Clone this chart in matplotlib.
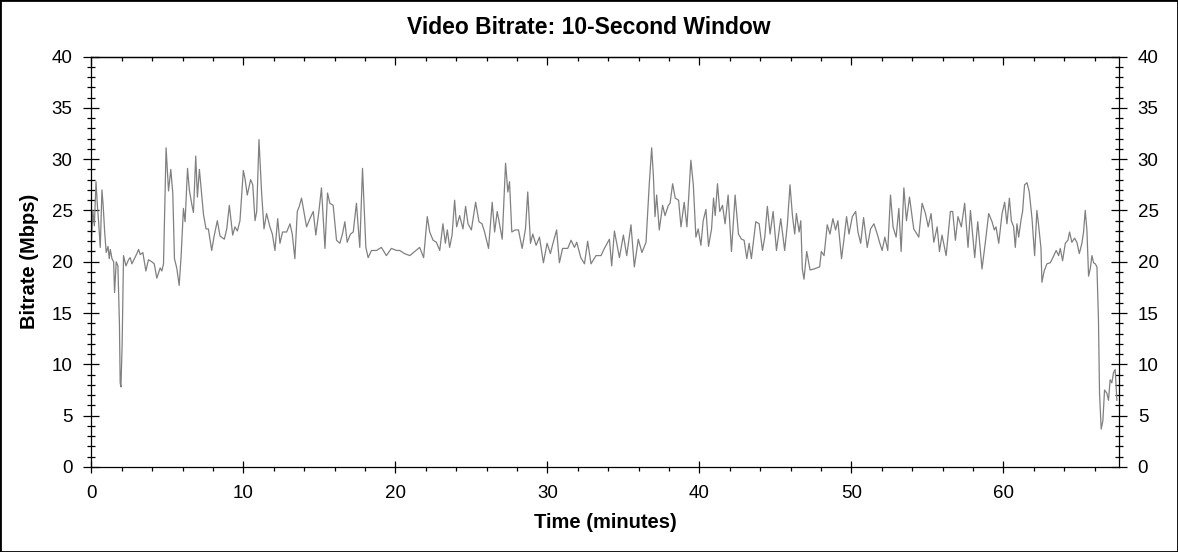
import matplotlib
matplotlib.use('Agg')
import matplotlib.pyplot as plt
from matplotlib.ticker import MultipleLocator
from matplotlib.patches import Rectangle

plt.rcParams['font.family'] = ['Liberation Sans', 'DejaVu Sans']
plt.rcParams['font.size'] = 13.5

# time (minutes) and bitrate (Mbps)
minutes = [
    0.00, 0.10, 0.20, 0.31, 0.40, 0.48, 0.59, 0.70, 0.78, 0.88, 0.98, 1.10, 1.18, 1.25, 1.36,
    1.47, 1.53, 1.64, 1.75, 1.85, 1.90, 1.95, 2.03, 2.12, 2.28, 2.45, 2.56, 2.67, 2.80, 3.00,
    3.11, 3.22, 3.39, 3.59, 3.76, 3.98, 4.14, 4.31, 4.53, 4.64, 4.75, 4.92, 5.08, 5.23, 5.36,
    5.47, 5.62, 5.78, 5.91, 6.06, 6.17, 6.33, 6.45, 6.61, 6.72, 6.87, 6.98, 7.11, 7.38, 7.55,
    7.70, 7.92, 8.08, 8.29, 8.47, 8.75, 8.91, 9.08, 9.30, 9.45, 9.61, 9.78, 10.00, 10.11, 10.26,
    10.48, 10.62, 10.77, 10.88, 11.03, 11.20, 11.36, 11.53, 11.75, 11.91, 12.08, 12.26, 12.41, 12.58, 12.85,
    13.07, 13.22, 13.39, 13.55, 13.68, 13.83, 13.98, 14.16, 14.38, 14.60, 14.77, 14.97, 15.14, 15.37, 15.54,
    15.69, 15.91, 16.13, 16.35, 16.52, 16.68, 16.83, 17.05, 17.23, 17.44, 17.66, 17.84, 18.06, 18.21, 18.43,
    18.76, 19.08, 19.41, 19.74, 20.07, 20.29, 20.60, 20.95, 21.27, 21.60, 21.86, 22.10, 22.26, 22.48, 22.70,
    22.92, 23.13, 23.29, 23.42, 23.57, 23.73, 23.90, 24.03, 24.23, 24.45, 24.62, 24.78, 25.00, 25.28, 25.50,
    25.70, 25.87, 26.13, 26.37, 26.53, 26.70, 26.85, 27.03, 27.25, 27.40, 27.51, 27.66, 27.88, 28.10, 28.34,
    28.56, 28.71, 28.89, 29.04, 29.26, 29.48, 29.74, 29.98, 30.20, 30.35, 30.61, 30.79, 31.00, 31.34, 31.56,
    31.78, 31.93, 32.20, 32.44, 32.65, 32.87, 33.20, 33.53, 33.75, 34.08, 34.23, 34.41, 34.74, 35.00, 35.22,
    35.50, 35.72, 35.98, 36.22, 36.49, 36.70, 36.86, 36.97, 37.08, 37.19, 37.36, 37.58, 37.74, 37.96, 38.07,
    38.24, 38.41, 38.63, 38.79, 39.00, 39.18, 39.44, 39.60, 39.77, 39.92, 40.10, 40.25, 40.43, 40.60, 40.80,
    40.93, 41.04, 41.19, 41.34, 41.52, 41.69, 41.89, 42.11, 42.35, 42.57, 42.77, 42.94, 43.12, 43.27, 43.42,
    43.71, 43.93, 44.15, 44.30, 44.47, 44.65, 44.85, 45.07, 45.35, 45.61, 45.79, 45.96, 46.12, 46.27, 46.38,
    46.56, 46.67, 46.77, 46.88, 47.06, 47.28, 47.54, 47.91, 48.02, 48.20, 48.41, 48.59, 48.78, 48.96, 49.11,
    49.35, 49.51, 49.68, 49.84, 50.06, 50.28, 50.43, 50.61, 50.80, 51.04, 51.26, 51.48, 51.70, 51.85, 52.02,
    52.20, 52.39, 52.57, 52.74, 52.94, 53.12, 53.27, 53.45, 53.62, 53.82, 54.10, 54.43, 54.65, 54.87, 55.05,
    55.24, 55.42, 55.64, 55.79, 55.96, 56.23, 56.51, 56.66, 56.84, 57.01, 57.23, 57.45, 57.67, 57.83, 58.11,
    58.31, 58.59, 58.81, 59.03, 59.25, 59.40, 59.51, 59.69, 59.91, 60.08, 60.23, 60.39, 60.52, 60.67, 60.78,
    60.89, 61.00, 61.17, 61.26, 61.39, 61.55, 61.70, 61.88, 62.05, 62.20, 62.31, 62.47, 62.53, 62.68, 62.86,
    63.08, 63.25, 63.47, 63.63, 63.74, 63.89, 64.07, 64.24, 64.35, 64.50, 64.68, 64.83, 64.99, 65.16, 65.27,
    65.38, 65.49, 65.60, 65.71, 65.82, 65.93, 66.04, 66.15, 66.25, 66.32, 66.43, 66.54, 66.65, 66.80, 66.91,
    67.02, 67.13, 67.24, 67.35, 67.46,
]
mbps = [
    21.5, 25.0, 23.5, 27.8, 25.5, 23.9, 21.4, 27.0, 25.5, 22.9, 20.9, 21.5, 20.3, 21.2, 20.3,
    20.0, 17.0, 20.0, 19.6, 14.0, 8.2, 7.8, 12.0, 20.6, 19.6, 20.2, 20.4, 19.8, 20.2, 20.8,
    21.2, 20.7, 20.9, 19.1, 20.2, 20.0, 19.8, 18.4, 19.4, 19.1, 19.8, 31.1, 26.9, 29.0, 26.7,
    20.3, 19.4, 17.7, 20.6, 25.2, 23.9, 29.1, 27.0, 25.6, 24.8, 30.3, 26.3, 29.0, 24.6, 23.2,
    23.2, 21.1, 22.5, 24.0, 22.5, 22.2, 23.2, 25.5, 22.6, 23.4, 23.0, 24.0, 28.9, 28.1, 26.5,
    28.0, 27.5, 24.0, 24.9, 31.9, 26.8, 23.2, 24.7, 23.4, 22.7, 21.1, 24.2, 21.8, 22.9, 22.9,
    23.7, 22.7, 20.3, 24.9, 25.4, 26.2, 24.9, 23.4, 24.2, 24.9, 22.6, 24.9, 27.2, 21.3, 26.7,
    25.7, 25.5, 22.1, 21.8, 22.7, 23.9, 21.9, 22.7, 22.9, 25.7, 21.4, 29.1, 21.4, 20.4, 21.1,
    21.1, 21.4, 20.6, 21.3, 21.1, 21.1, 20.8, 20.6, 21.0, 21.4, 20.4, 24.4, 22.9, 22.1, 21.9,
    21.1, 23.7, 21.8, 23.1, 21.4, 22.6, 26.0, 23.4, 24.5, 23.2, 25.4, 23.7, 23.1, 25.8, 23.9,
    23.7, 22.9, 21.3, 25.8, 22.9, 24.9, 23.7, 22.2, 29.6, 26.8, 27.8, 22.9, 23.1, 23.1, 21.3,
    23.2, 26.8, 21.8, 22.7, 21.6, 22.4, 19.9, 21.8, 20.8, 21.7, 23.1, 19.9, 21.3, 21.3, 22.1,
    21.4, 21.9, 20.4, 19.8, 22.0, 19.8, 20.6, 20.6, 21.3, 22.2, 19.6, 23.0, 20.4, 22.6, 20.6,
    23.6, 19.5, 22.2, 20.9, 21.9, 27.5, 31.1, 28.5, 24.4, 26.5, 23.1, 25.5, 24.5, 25.5, 25.7,
    27.6, 26.2, 26.0, 23.4, 25.8, 23.4, 29.9, 27.5, 22.4, 23.2, 21.6, 24.0, 25.1, 21.5, 23.2,
    26.2, 24.5, 27.6, 24.9, 25.5, 23.7, 26.5, 21.0, 26.5, 22.7, 22.2, 22.1, 20.3, 21.8, 20.3,
    23.9, 23.7, 21.1, 22.4, 25.4, 22.7, 24.9, 21.1, 24.2, 21.1, 23.7, 27.5, 24.5, 22.7, 24.7,
    22.9, 24.0, 19.3, 18.3, 21.0, 19.2, 19.3, 19.5, 21.0, 20.6, 23.6, 22.7, 24.2, 23.1, 24.0,
    20.3, 22.2, 24.4, 22.7, 24.4, 24.9, 22.9, 21.8, 24.3, 21.4, 23.2, 23.7, 22.7, 21.9, 21.1,
    22.4, 21.1, 26.5, 23.4, 22.4, 25.2, 21.0, 27.2, 24.0, 26.3, 23.2, 22.4, 25.7, 24.7, 23.4,
    24.7, 21.9, 23.4, 21.0, 22.6, 20.6, 24.9, 24.9, 22.1, 24.4, 23.4, 25.7, 21.4, 25.0, 20.4,
    23.9, 19.3, 21.9, 24.7, 23.9, 23.1, 23.4, 21.8, 24.7, 25.8, 23.7, 26.2, 24.0, 23.4, 21.4,
    23.7, 22.4, 24.2, 24.9, 27.5, 27.7, 26.8, 24.2, 20.6, 25.0, 23.6, 21.3, 18.0, 19.1, 19.8,
    19.9, 20.4, 21.1, 20.6, 21.3, 20.1, 21.8, 22.1, 22.9, 21.9, 22.3, 21.9, 20.8, 21.8, 22.9,
    25.0, 23.1, 18.6, 19.3, 20.6, 19.9, 19.8, 19.5, 14.4, 7.2, 3.7, 4.5, 7.5, 7.2, 6.5,
    8.5, 8.2, 9.2, 9.5, 6.5,
]

fig = plt.figure(figsize=(11.78, 5.52), dpi=100)
ax = fig.add_axes([0.0775, 0.154, 0.8724, 0.7436])

ax.plot(minutes, mbps, color='#808080', lw=0.9)

ax.set_xlim(0, 67.6)
ax.set_ylim(0, 40)
ax.xaxis.set_major_locator(MultipleLocator(10))
ax.xaxis.set_minor_locator(MultipleLocator(2))
ax.yaxis.set_major_locator(MultipleLocator(5))
ax.yaxis.set_minor_locator(MultipleLocator(1))

for s in ax.spines.values():
    s.set_linewidth(0.9)

ax.tick_params(axis='y', which='major', direction='inout', length=11, width=0.9,
               left=True, right=True, labelleft=True, labelright=True, pad=8)
ax.tick_params(axis='y', which='minor', direction='inout', length=5.5, width=0.9,
               left=True, right=True)
ax.tick_params(axis='x', which='major', direction='inout', length=8.5, width=0.9, pad=8.5)
ax.tick_params(axis='x', which='minor', direction='out', length=3, width=0.9)

# top axis: ticks pointing down into the plot, no labels
top = ax.secondary_xaxis('top')
top.xaxis.set_major_locator(MultipleLocator(10))
top.xaxis.set_minor_locator(MultipleLocator(2))
top.tick_params(which='major', direction='in', length=6, width=0.9, labeltop=False)
top.tick_params(which='minor', direction='in', length=3, width=0.9)
top.spines['top'].set_linewidth(0.9)

ax.set_xlabel('Time (minutes)', fontweight='bold', fontsize=14.5, va='center')
ax.xaxis.set_label_coords(0.5, -0.136)
ax.set_ylabel('Bitrate (Mbps)', fontweight='bold', fontsize=14.5, va='center')
ax.yaxis.set_label_coords(-0.0605, 0.5)

fig.text(0.5, 1 - 27 / 552, 'Video Bitrate: 10-Second Window', ha='center', va='center',
         fontweight='bold', fontsize=16.5)

fig.patches.append(Rectangle((0, 0), 1, 1, transform=fig.transFigure, fill=False,
                             edgecolor='black', lw=2, zorder=10))

fig.savefig('out.png', dpi=100)
